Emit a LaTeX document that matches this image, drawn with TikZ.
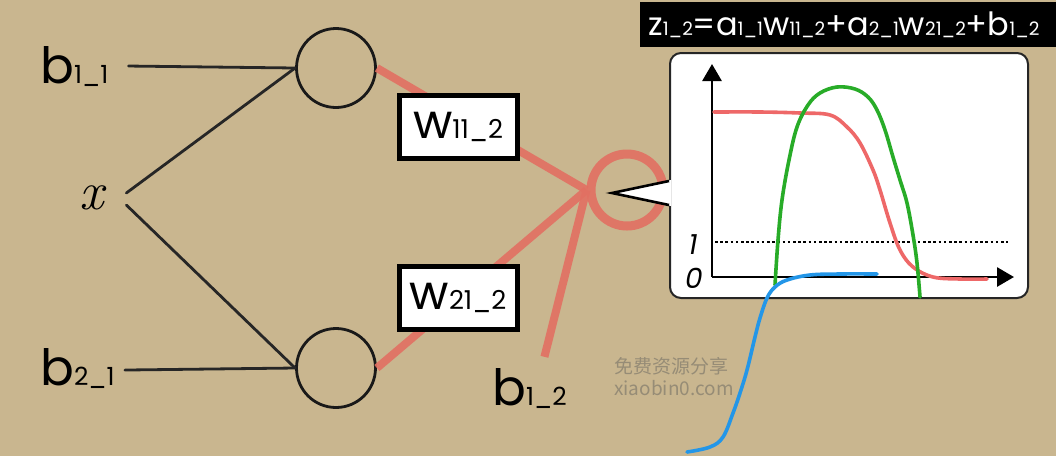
\documentclass[tikz,border=0pt]{standalone}
\usepackage{fontspec}
\setmainfont{Poppins}
\newfontfamily\cjkfont{Noto Sans CJK SC}
\newfontfamily\lmfont{Latin Modern Roman}
\usetikzlibrary{arrows.meta,calc}
\definecolor{bgtan}{RGB}{201,182,143}
\definecolor{salmon}{RGB}{226,112,98}
\definecolor{cred}{RGB}{238,104,104}
\definecolor{cgreen}{RGB}{40,172,40}
\definecolor{cblue}{RGB}{35,150,232}
\definecolor{wmark}{RGB}{150,140,118}
\newcommand\blab[2]{{\fontsize{50}{50}\selectfont #1}{\fontsize{25}{25}\selectfont #2}}
\newcommand\wlab[2]{{\fontsize{48}{48}\selectfont #1}{\fontsize{26}{26}\selectfont #2}}
\newcommand\fm[1]{{\fontsize{32}{32}\selectfont #1}}
\newcommand\fs[1]{{\fontsize{18.5}{18.5}\selectfont #1}}
\tikzset{
  sk/.style={draw=black!85,line width=2.8pt,line cap=round},
  neuron/.style={circle,draw=black!90,line width=2.8pt,minimum size=79pt,inner sep=0pt},
  redline/.style={draw=salmon,line width=8pt,opacity=0.9},
  wbox/.style={draw=black,line width=5pt,fill=white,minimum width=118pt,minimum height=63pt,inner sep=0pt},
  lab/.style={inner sep=2pt,text=black},
  curve/.style={line width=3.6pt,line cap=round,smooth,tension=0.6},
}
\begin{document}
\begin{tikzpicture}[x=1pt,y=-1pt]
\useasboundingbox (0,0) rectangle (1056,456);
\fill[bgtan] (0,0) rectangle (1056,456);

% input side
\node[lab,anchor=base west] (b11) at (38,83) {\blab{b}{1\_1}};
\node[lab] (x) at (92,198) {\lmfont\itshape\fontsize{54}{54}\selectfont x};
\node[lab,anchor=base west] (b21) at (38,385) {\blab{b}{2\_1}};
\node[neuron] (n1) at (336,68) {};
\node[neuron] (n2) at (336,368) {};

\draw[sk] ([xshift=18pt]b11.east) -- (n1.west);
\draw[sk] ([shift={(20,-5)}]x.east) -- (n1.west);
\draw[sk] ([shift={(20,7)}]x.east) -- (n2.west);
\draw[sk] ([shift={(8,2)}]b21.east) -- (n2.west);

% output neuron
\node[circle,draw=salmon,line width=9pt,minimum size=72pt,inner sep=0pt,opacity=0.9] (n3) at (627,190) {};
\node[lab,anchor=base west] (b12) at (490,405) {\blab{b}{1\_2}};
\draw[redline] (n1.east) -- (n3.west);
\draw[redline] (n2.east) -- (n3.west);
\draw[redline] ([shift={(15,-9)}]b12.north) -- (n3.west);

\node[wbox] (w11) at (458,127) {\wlab{w}{11\_2}};
\node[wbox] (w21) at (458,298) {\wlab{w}{21\_2}};

% callout
\node[draw=black!85,fill=white,line width=2pt,rounded corners=11pt,minimum width=358pt,minimum height=245pt] (call) at (849,175.5) {};
\coordinate (pt) at ($(call.west)+(0,5.5)$);
\coordinate (ptip) at ($(call.west)+(-57,17.5)$);
\coordinate (pb) at ($(call.west)+(0,29.5)$);
\fill[white] ($(pt)+(2,-1)$) -- (ptip) -- ($(pb)+(2,1)$) -- cycle;
\draw[black,line width=2.6pt,line join=miter] (pt) -- (ptip) -- (pb);

% plot
\coordinate (o) at (712,277);
\coordinate (ytop) at (712,64);
\coordinate (xend) at (1014,277);
\draw[black,line width=2.8pt,-{Triangle[length=17pt,width=19pt]}] (o) -- (ytop);
\draw[black,line width=2.8pt,-{Triangle[length=17pt,width=19pt]}] (o) -- (xend);
\node[font=\fontsize{28}{28}\selectfont\itshape] (one) at (693,245) {1};
\node[font=\fontsize{28}{28}\selectfont\itshape] (zero) at (694,278) {0};
\draw[black,line width=2.6pt,dash pattern=on 2.6pt off 2.6pt] (715,242) -- (1008,242);

\draw[curve,cred] plot coordinates {(714,112) (760,112) (800,113) (830,115) (847,127) (860,143) (873,170) (880,190) (890,223) (900,250) (913,267) (933,277) (960,279) (987,279)};
\draw[curve,cgreen] plot coordinates {(775,285) (778,240) (782,200) (789,160) (797,127) (808,105) (820,93) (837,87) (855,89) (868,97) (877,110) (885,130) (893,157) (900,180) (907,203) (913,235) (917,263) (920,297)};
\draw[curve,cblue] plot coordinates {(687,452) (710,447) (723,437) (733,413) (740,393) (747,370) (755,337) (760,318) (767,298) (775,287) (787,280) (810,275) (840,274) (877,274)};

% formula bar
\node[fill=black,text=white,minimum width=420pt,minimum height=45pt,inner sep=0pt] (eq) at (850,24.5) {};
\node[text=white,anchor=west,inner sep=0pt] (eqt) at (648,25) {\fm{z}\fs{1\_2}\fm{=a}\fs{1\_1}\fm{w}\fs{11\_2}\fm{+a}\fs{2\_1}\fm{w}\fs{21\_2}\fm{+b}\fs{1\_2}};

% watermark
\node[text=wmark,anchor=north west,inner sep=0pt,align=left,font=\cjkfont\fontsize{19}{22}\selectfont] (wm) at (614,357) {免费资源分享\\xiaobin0.com};
\end{tikzpicture}
\end{document}
